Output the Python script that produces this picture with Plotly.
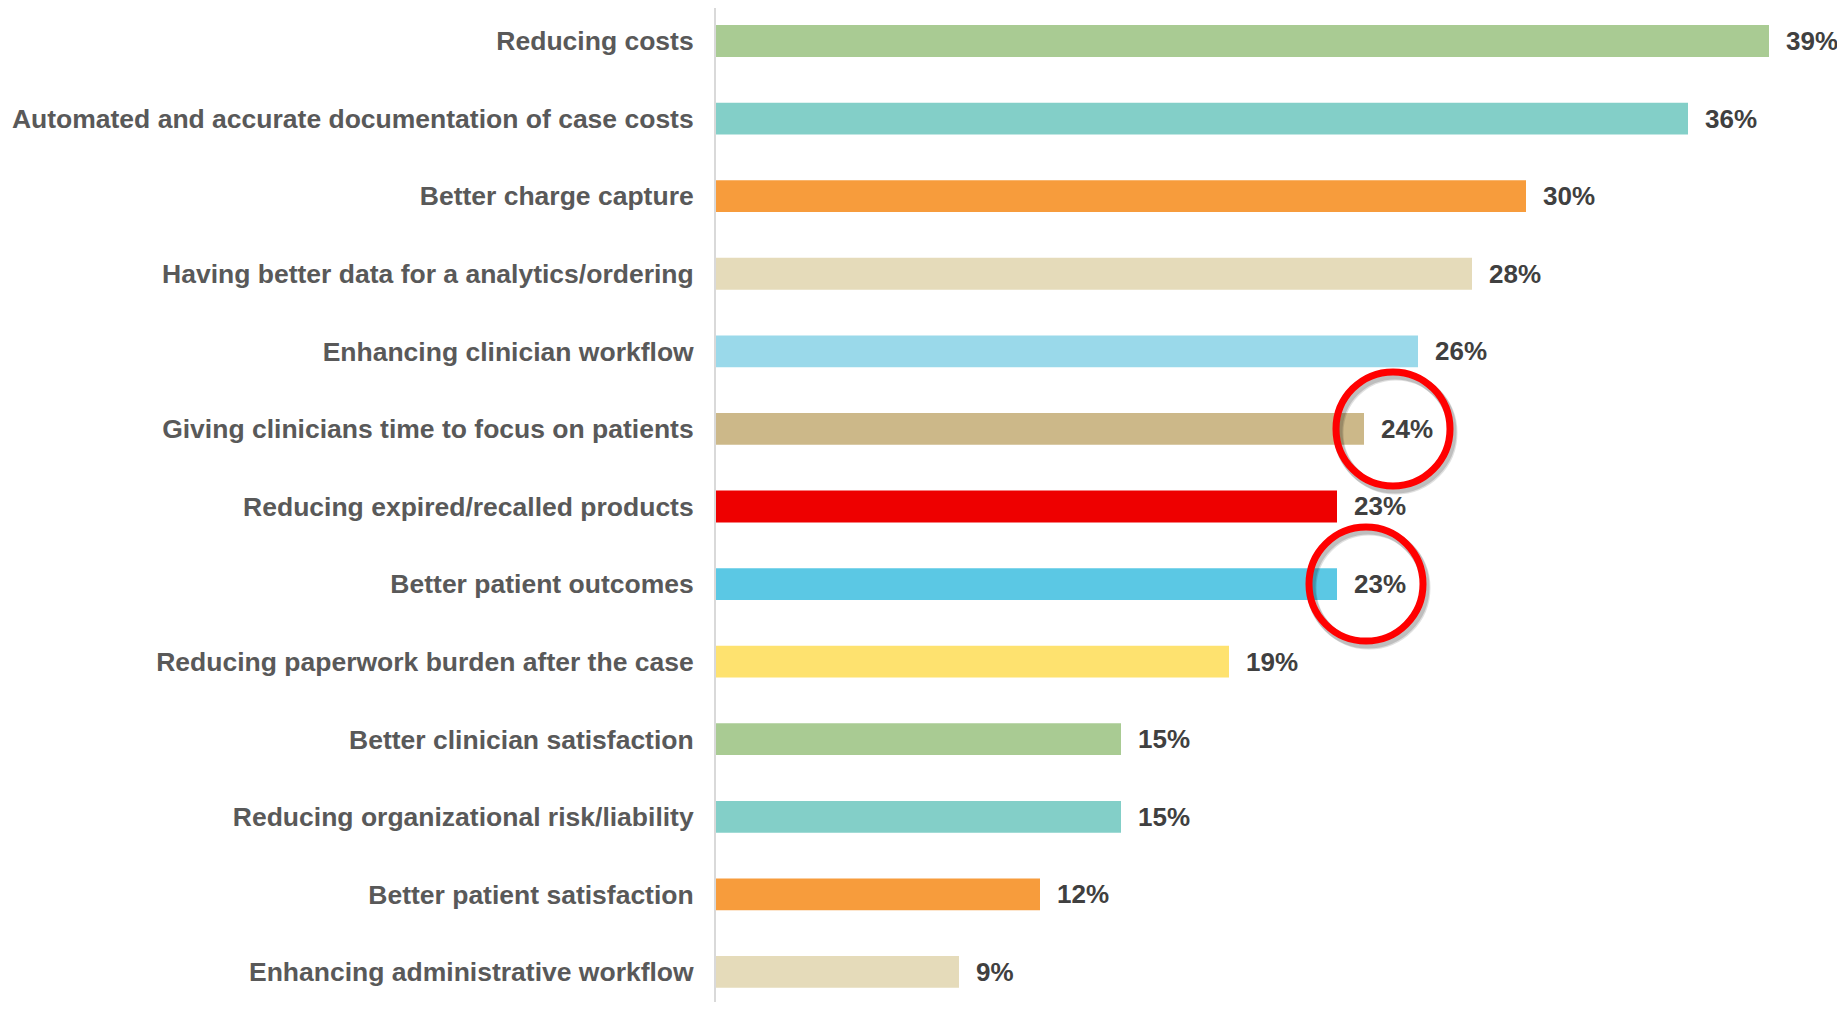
import plotly.graph_objects as go

categories = [
    "Reducing costs",
    "Automated and accurate documentation of case costs",
    "Better charge capture",
    "Having better data for a analytics/ordering",
    "Enhancing clinician workflow",
    "Giving clinicians time to focus on patients",
    "Reducing expired/recalled products",
    "Better patient outcomes",
    "Reducing paperwork burden after the case",
    "Better clinician satisfaction",
    "Reducing organizational risk/liability",
    "Better patient satisfaction",
    "Enhancing administrative workflow",
]
values = [39, 36, 30, 28, 26, 24, 23, 23, 19, 15, 15, 12, 9]
value_labels = ["39%", "36%", "30%", "28%", "26%", "24%", "23%", "23%", "19%", "15%", "15%", "12%", "9%"]
bar_colors = [
    "#A9CB93", "#83CFC8", "#F79C3C", "#E5DBBA", "#9AD9EA", "#CCB889",
    "#EE0000", "#5BC8E4", "#FEE26F", "#A9CB93", "#83CFC8", "#F79C3C", "#E5DBBA",
]
highlighted = ["Giving clinicians time to focus on patients", "Better patient outcomes"]

W, H = 1829, 994
ML = 708
PX_PER_UNIT = 27.0
ROW_PX = 77.58
x_max = (W - ML) / PX_PER_UNIT
y_top = -33 / ROW_PX
y_bottom = (H - 33) / ROW_PX

fig = go.Figure()
fig.add_trace(go.Bar(
    x=values,
    y=list(range(len(categories))),
    orientation="h",
    marker=dict(color=bar_colors, line=dict(width=0)),
    width=0.41,
    hoverinfo="skip",
))

for i, (v, lab) in enumerate(zip(values, value_labels)):
    fig.add_annotation(
        x=v, y=i, xref="x", yref="y", text=lab, showarrow=False,
        xanchor="left", yanchor="middle", xshift=15,
        font=dict(family="Liberation Sans, Arial", size=26, color="#404040", weight="bold"),
    )

for name in highlighted:
    i = categories.index(name)
    v = values[i]
    for dx, dy, op in [(3, -4, 0.12), (2, -3, 0.15)]:
        fig.add_shape(
            type="circle", xref="x", yref="y",
            xsizemode="pixel", ysizemode="pixel",
            xanchor=v, yanchor=i,
            x0=29 - 57 + dx, x1=29 + 57 + dx, y0=-57 + dy, y1=57 + dy,
            line=dict(color="rgba(0,0,0,%s)" % op, width=9),
            layer="above",
        )
    fig.add_shape(
        type="circle", xref="x", yref="y",
        xsizemode="pixel", ysizemode="pixel",
        xanchor=v, yanchor=i,
        x0=29 - 57, x1=29 + 57, y0=-57, y1=57,
        line=dict(color="#FF0000", width=7),
        layer="above",
    )

fig.update_layout(
    width=W, height=H,
    margin=dict(l=ML, r=0, t=0, b=0),
    plot_bgcolor="white", paper_bgcolor="white",
    showlegend=False,
)
fig.update_xaxes(
    range=[0, x_max], showgrid=False, zeroline=False,
    showticklabels=False, showline=False, ticks="",
)
fig.update_yaxes(
    range=[y_bottom, y_top],
    tickmode="array", tickvals=list(range(len(categories))), ticktext=categories,
    showgrid=False, zeroline=False,
    showline=True, linecolor="#D9D9D9", linewidth=2,
    ticks="", ticklabelstandoff=15,
    tickfont=dict(family="Liberation Sans, Arial", size=26.5, color="#595959", weight="bold"),
)

fig.write_html("out.html")
